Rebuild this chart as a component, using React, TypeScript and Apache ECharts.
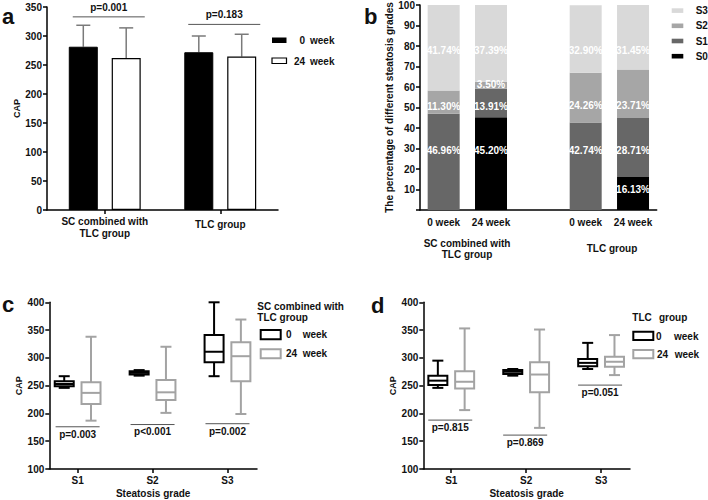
import React, { useEffect, useRef } from "react";
import * as echarts from "echarts";

const FONT = 'Arial, "Liberation Sans", Helvetica, sans-serif';
const INK = "#111111";
const GREY_BOX = "#a3a3a3";
const ERR_GREY = "#7a7a7a";

// ---------- panel a : mean CAP (bars) ----------
const groupsA = ["SC combined with\nTLC group", "TLC group"];
const capMean0 = [281.5, 272];
const capMean24 = [262, 264.5];
const capErrTop0 = [318.5, 300];
const capErrTop24 = [314, 303];
const pTextA = ["p=0.001", "p=0.183"];
const pLevelA = [333, 320];
const weekNums = ["0", "24"];
const weekWord = "week";

// ---------- panel b : steatosis grade percentages ----------
const weekLabelsB = ["0 week", "24 week", "", "0 week", "24 week"];
const groupLabelsB = ["SC combined with\nTLC group", "TLC group"];
const gradeNamesB = ["S0", "S1", "S2", "S3"];
const pctS0 = [null, 45.2, null, null, 16.13];
const pctS1 = [46.96, 13.91, null, 42.74, 28.71];
const pctS2 = [11.3, 3.5, null, 24.26, 23.71];
const pctS3 = [41.74, 37.39, null, 32.9, 31.45];
// height (in %) at which GraphPad printed each label
const labelLevelB = [
  [null, 29, null, null, 9.8],
  [29, 50.4, null, 29, 29],
  [50.4, 61, null, 51, 51],
  [78, 78, null, 78, 78],
];

// ---------- panel c / d : CAP by steatosis grade (min, q1, median, q3, max) ----------
const gradesCD = ["S1", "S2", "S3"];
const scWeek0 = [
  [246, 249, 253, 258, 267],
  [268, 270, 273, 276, 278],
  [267, 292, 311, 341, 400],
];
const scWeek24 = [
  [187, 217, 237, 256, 338],
  [201, 224, 238, 260, 320],
  [199, 258, 303, 328, 369],
];
const pTextC = ["p=0.003", "p<0.001", "p=0.002"];
const pLevelC = [176, 180, 181.5];

const tlcWeek0 = [
  [246, 251, 259, 268, 295],
  [268, 271, 275, 278, 280],
  [280, 285, 291, 298, 327],
];
const tlcWeek24 = [
  [206, 245, 257, 276, 353],
  [174, 238, 270, 292, 351],
  [269, 284, 293, 302, 341],
];
const pTextD = ["p=0.815", "p=0.869", "p=0.051"];
const pLevelD = [188, 161, 251];

const bold = (size: number) => `bold ${size}px ${FONT}`;

function pAnnot(idx: number, levels: number[], texts: string[], halfLen: number, shift: number, textDy: number, catAxis: boolean) {
  return {
    type: "custom",
    xAxisIndex: idx,
    yAxisIndex: idx,
    silent: true,
    z: 6,
    clip: false,
    data: levels.map((l, i) => [catAxis ? i : i + 1, l]),
    encode: { x: 0, y: 1 },
    renderItem: (params: any, api: any) => {
      const p = api.coord([api.value(0), api.value(1)]);
      const cx = p[0] + shift;
      return {
        type: "group",
        children: [
          {
            type: "line",
            shape: { x1: cx - halfLen, y1: p[1], x2: cx + halfLen, y2: p[1] },
            style: { stroke: "#555", lineWidth: 1 },
          },
          {
            type: "text",
            x: cx,
            y: p[1] + textDy,
            style: { text: texts[params.dataIndex], font: bold(10), fill: INK, align: "center", verticalAlign: "middle" },
          },
        ],
      };
    },
  };
}

function errSeries(means: number[], tops: number[], shift: number) {
  return {
    type: "custom",
    xAxisIndex: 0,
    yAxisIndex: 0,
    silent: true,
    z: 1,
    data: means.map((m, i) => [i, m, tops[i]]),
    encode: { x: 0, y: [1, 2] },
    renderItem: (params: any, api: any) => {
      const b = api.coord([api.value(0), api.value(1)]);
      const t = api.coord([api.value(0), api.value(2)]);
      const x = b[0] + shift;
      const st = { stroke: ERR_GREY, lineWidth: 1.5 };
      return {
        type: "group",
        children: [
          { type: "line", shape: { x1: x, y1: b[1], x2: x, y2: t[1] }, style: st },
          { type: "line", shape: { x1: x - 7, y1: t[1], x2: x + 7, y2: t[1] }, style: st },
        ],
      };
    },
  };
}

function boxSeries(idx: number, rows: number[][], shift: number, color: string) {
  return {
    type: "custom",
    xAxisIndex: idx,
    yAxisIndex: idx,
    silent: true,
    z: 3,
    data: rows.map((r, i) => [i + 1, ...r]),
    encode: { x: 0, y: [1, 2, 3, 4, 5] },
    renderItem: (params: any, api: any) => {
      const xv = api.value(0);
      const ys = [1, 2, 3, 4, 5].map((k) => api.coord([xv, api.value(k)])[1]);
      const x = api.coord([xv, api.value(1)])[0] + shift;
      const hw = 9.5;
      const cw = 5.5;
      const st = { stroke: color, lineWidth: 2 };
      return {
        type: "group",
        children: [
          { type: "line", shape: { x1: x, y1: ys[4], x2: x, y2: ys[3] }, style: st },
          { type: "line", shape: { x1: x - cw, y1: ys[4], x2: x + cw, y2: ys[4] }, style: st },
          { type: "line", shape: { x1: x, y1: ys[1], x2: x, y2: ys[0] }, style: st },
          { type: "line", shape: { x1: x - cw, y1: ys[0], x2: x + cw, y2: ys[0] }, style: st },
          { type: "rect", shape: { x: x - hw, y: ys[3], width: hw * 2, height: ys[1] - ys[3] }, style: { ...st, fill: "#fff" } },
          { type: "line", shape: { x1: x - hw, y1: ys[2], x2: x + hw, y2: ys[2] }, style: st },
        ],
      };
    },
  };
}

const axisLine = { show: true, onZero: false, lineStyle: { color: "#000", width: 1.5 } };
const axisTick = { show: true, length: 4, lineStyle: { color: "#000", width: 1.5 } };
const tickLabel = { fontFamily: FONT, fontWeight: "bold", fontSize: 10, color: INK };
const nameStyle = (size: number) => ({ fontFamily: FONT, fontWeight: "bold", fontSize: size, color: INK });

function txt(x: number, y: number, text: string, size: number, align = "left", extra: any = {}) {
  return {
    type: "text",
    x,
    y,
    silent: true,
    style: { text, font: bold(size), fill: INK, align, verticalAlign: "middle", ...extra },
  };
}

function rect(x: number, y: number, w: number, h: number, style: any) {
  return { type: "rect", silent: true, shape: { x, y, width: w, height: h }, style };
}

function buildOption() {
  const segB = [pctS0, pctS1, pctS2, pctS3];
  const colorsB = ["#000000", "#676767", "#a6a6a6", "#d9d9d9"];
  const pxPerPct = 205.3 / 100;
  const seriesB = segB.map((vals, k) => ({
    type: "bar",
    name: gradeNamesB[k],
    xAxisIndex: 1,
    yAxisIndex: 1,
    stack: "grades",
    barWidth: 32,
    itemStyle: { color: colorsB[k] },
    data: vals.map((v, i) => {
      if (v == null) return "-";
      let base = 0;
      for (let j = 0; j < k; j++) base += segB[j][i] ?? 0;
      const center = base + v / 2;
      const level = labelLevelB[k][i] ?? center;
      return {
        value: v,
        label: {
          show: true,
          position: "inside",
          offset: [0, (center - level) * pxPerPct],
          formatter: (p: any) => `${Number(p.value).toFixed(2)}%`,
          color: "#fff",
          fontFamily: FONT,
          fontWeight: "bold",
          fontSize: 10,
        },
      };
    }),
  }));

  const legendB = gradeNamesB
    .slice()
    .reverse()
    .flatMap((g, i) => {
      const k = gradeNamesB.length - 1 - i;
      const y = 8.3 + i * 15.2;
      return [rect(671.7, y, 11.6, 4.6, { fill: colorsB[k] }), txt(695.7, y + 2.3, g, 10)];
    });

  const graphic: any[] = [
    txt(2, 16.4, "a", 22),
    txt(364, 16.4, "b", 22),
    txt(2, 304.8, "c", 22),
    txt(371, 305.8, "d", 22),
    // legend a
    rect(272, 37.5, 14.5, 5.5, { fill: "#000" }),
    rect(272, 58, 14.5, 5.5, { fill: "#fff", stroke: "#000", lineWidth: 1.2 }),
    txt(305, 40.5, weekNums[0], 10, "right"),
    txt(310, 40.5, weekWord, 10),
    txt(305, 61, weekNums[1], 10, "right"),
    txt(310, 61, weekWord, 10),
    // legend b
    ...legendB,
    // group labels b
    txt(467, 248.8, groupLabelsB[0], 10, "center", { lineHeight: 11.5 }),
    txt(612, 248.5, groupLabelsB[1], 10, "center"),
    // legend c
    txt(257.3, 306.7, "SC combined with", 10),
    txt(257.3, 317.7, "TLC group", 10),
    rect(260.7, 330, 20, 9.3, { fill: "#fff", stroke: "#000", lineWidth: 2 }),
    rect(260.7, 349.3, 20, 9, { fill: "#fff", stroke: GREY_BOX, lineWidth: 2 }),
    txt(286, 334.7, weekNums[0], 10),
    txt(302.7, 334.7, weekWord, 10),
    txt(286, 353.8, weekNums[1], 10),
    txt(302.7, 353.8, weekWord, 10),
    // legend d
    txt(632.3, 317.3, "TLC", 10),
    txt(659, 317.3, "group", 10),
    rect(633.3, 331.7, 20, 8.3, { fill: "#fff", stroke: "#000", lineWidth: 2 }),
    rect(633.3, 350, 20, 8.3, { fill: "#fff", stroke: GREY_BOX, lineWidth: 2 }),
    txt(656, 336, weekNums[0], 10),
    txt(674, 336, weekWord, 10),
    txt(657, 354, weekNums[1], 10),
    txt(674.7, 354, weekWord, 10),
  ];

  const boxXAxis = (idx: number, min: number, max: number) => ({
    gridIndex: idx,
    type: "value",
    position: "bottom",
    min,
    max,
    name: "Steatosis grade",
    nameLocation: "middle",
    nameGap: 19,
    nameTextStyle: nameStyle(10),
    axisLine,
    axisTick: { ...axisTick, customValues: [1, 2, 3] },
    axisLabel: {
      ...tickLabel,
      margin: 6,
      customValues: [1, 2, 3],
      formatter: (v: number) => gradesCD[Math.round(v) - 1] ?? "",
    },
    splitLine: { show: false },
  });
  const boxYAxis = (idx: number) => ({
    gridIndex: idx,
    type: "value",
    min: 100,
    max: 400,
    interval: 50,
    name: "CAP",
    nameLocation: "middle",
    nameGap: 26,
    nameTextStyle: nameStyle(9),
    axisLine,
    axisTick,
    axisLabel: { ...tickLabel, margin: 5 },
    splitLine: { show: false },
  });

  return {
    animation: false,
    backgroundColor: "#fff",
    textStyle: { fontFamily: FONT },
    grid: [
      { left: 47, top: 7, width: 231, height: 203 },
      { left: 420, top: 4.7, width: 236.7, height: 205.3 },
      { left: 49.3, top: 302.3, width: 207.7, height: 166.7 },
      { left: 423.3, top: 302.3, width: 206.7, height: 166.7 },
    ],
    xAxis: [
      {
        gridIndex: 0,
        type: "category",
        data: groupsA,
        axisLine,
        axisTick: { ...axisTick, alignWithLabel: true },
        axisLabel: {
          ...tickLabel,
          lineHeight: 11.6,
          margin: 6,
          formatter: (v: string) => (v.includes("\n") ? v : `{one|${v}}`),
          rich: { one: { ...tickLabel, padding: [5.8, 0, 0, 0] } },
        },
      },
      {
        gridIndex: 1,
        type: "category",
        data: weekLabelsB.map((_, i) => `c${i}`),
        axisLine,
        axisTick: { show: false },
        axisLabel: { ...tickLabel, margin: 7, interval: 0, formatter: (_v: string, i: number) => weekLabelsB[i] },
      },
      boxXAxis(2, 0.622, 3.394),
      boxXAxis(3, 0.627, 3.386),
    ],
    yAxis: [
      {
        gridIndex: 0,
        type: "value",
        min: 0,
        max: 350,
        interval: 50,
        name: "CAP",
        nameLocation: "middle",
        nameGap: 24,
        nameTextStyle: nameStyle(9),
        axisLine,
        axisTick,
        axisLabel: { ...tickLabel, margin: 5 },
        splitLine: { show: false },
      },
      {
        gridIndex: 1,
        type: "value",
        min: 0,
        max: 100,
        interval: 10,
        name: "The percentage of different steatosis grades",
        nameLocation: "middle",
        nameGap: 22,
        nameTextStyle: nameStyle(10),
        axisLine,
        axisTick,
        axisLabel: { ...tickLabel, margin: 5, formatter: (v: number) => (v === 0 ? "" : String(v)) },
        splitLine: { show: false },
      },
      boxYAxis(2),
      boxYAxis(3),
    ],
    graphic,
    series: [
      {
        type: "bar",
        name: "0 week",
        xAxisIndex: 0,
        yAxisIndex: 0,
        barWidth: 29,
        barGap: "48%",
        z: 2,
        itemStyle: { color: "#000", borderColor: "#000", borderWidth: 1 },
        data: capMean0,
      },
      {
        type: "bar",
        name: "24 week",
        xAxisIndex: 0,
        yAxisIndex: 0,
        barWidth: 29,
        barGap: "48%",
        z: 2,
        itemStyle: { color: "#fff", borderColor: "#000", borderWidth: 1.2 },
        data: capMean24,
      },
      errSeries(capMean0, capErrTop0, -21.45),
      errSeries(capMean24, capErrTop24, 21.45),
      pAnnot(0, pLevelA, pTextA, 36, 4, -9.7, true),
      ...seriesB,
      boxSeries(2, scWeek0, -13.4, "#000"),
      boxSeries(2, scWeek24, 13.4, GREY_BOX),
      pAnnot(2, pLevelC, pTextC, 22, 0, 7.4, false),
      boxSeries(3, tlcWeek0, -13.4, "#000"),
      boxSeries(3, tlcWeek24, 13.4, GREY_BOX),
      pAnnot(3, pLevelD, pTextD, 22, -1, 7, false),
    ],
  };
}

export default function App() {
  const ref = useRef<HTMLDivElement>(null);
  useEffect(() => {
    if (!ref.current) return;
    const chart = echarts.init(ref.current, undefined, { renderer: "svg" });
    chart.setOption(buildOption() as any);
    return () => chart.dispose();
  }, []);
  return (
    <div
      ref={ref}
      style={{ position: "fixed", left: 0, top: 0, width: 708, height: 500, background: "#fff" }}
    />
  );
}
